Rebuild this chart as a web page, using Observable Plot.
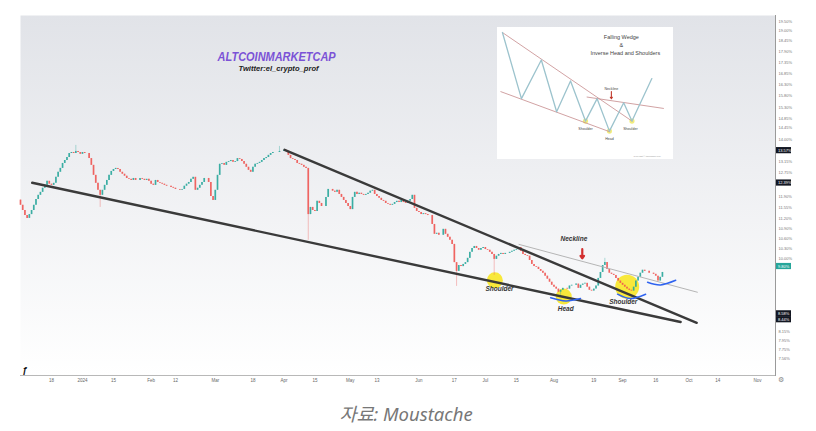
<!DOCTYPE html>
<html><head><meta charset="utf-8">
<script src="https://cdn.jsdelivr.net/npm/d3@7"></script>
<script src="https://cdn.jsdelivr.net/npm/@observablehq/plot@0.6"></script>
<style>
body{margin:0;background:#fff;font-family:"Liberation Sans",Arial,sans-serif;}
#wrap{position:relative;width:816px;height:395px;}
#inset{position:absolute;left:497px;top:27px;width:176px;height:132px;}
#caption{text-align:center;font-family:"Noto Sans","Noto Sans CJK KR",sans-serif;font-style:italic;font-size:18.5px;color:#777;line-height:24px;margin-top:7px;padding-right:4px;}
</style></head><body>
<div id="wrap"><div id="chart"></div><div id="inset"></div></div>
<div id="caption">자료: Moustache</div>
<script>
// ---------- data (daily closes, % , from 2023-12-04) ----------
const startDate = "2023-12-04";
const firstOpen = 11.80;
const closes = [
  11.63, 11.46, 11.30, 11.21, 11.33, 11.46, 11.63,
  11.82, 11.96, 12.06, 12.20, 12.30, 12.44, 12.34,
  12.30, 12.37, 12.58, 12.76, 12.90, 13.08, 13.19,
  13.30, 13.45, 13.49, 13.45, 13.53, 13.49, 13.42,
  13.49, 13.45, 13.45, 13.26, 13.01, 12.65, 12.37,
  12.13, 11.96, 12.13, 12.30, 12.47, 12.65, 12.79,
  12.86, 12.90, 12.86, 12.76, 12.69, 12.62, 12.54,
  12.51, 12.47, 12.54, 12.47, 12.47, 12.54, 12.51,
  12.47, 12.51, 12.44, 12.34, 12.30, 12.47, 12.40,
  12.37, 12.34, 12.30, 12.27, 12.27, 12.23, 12.20,
  12.16, 12.16, 12.13, 12.16, 12.27, 12.34, 12.40,
  12.51, 12.58, 12.13, 12.20, 12.30, 12.40, 12.54,
  12.54, 12.40, 11.92, 11.79, 12.13, 12.65, 13.05,
  13.08, 13.01, 13.12, 13.15, 13.19, 13.12, 13.15,
  13.26, 13.23, 13.15, 13.05, 12.94, 12.83, 12.76,
  12.94, 13.05, 13.08, 13.12, 13.19, 13.26, 13.30,
  13.38, 13.45, 13.49, 13.49, 13.49, 13.53, 13.53,
  13.57, 13.53, 13.38, 13.26, 13.23, 13.19, 13.08,
  13.05, 13.01, 12.94, 12.90, 11.33, 11.56, 11.46,
  11.43, 11.76, 11.69, 11.59, 11.59, 11.89, 12.16,
  12.16, 12.10, 12.06, 12.13, 11.99, 11.89, 11.79,
  11.69, 11.59, 11.49, 11.89, 12.06, 11.99, 12.03,
  11.99, 11.96, 11.99, 12.03, 12.10, 12.13, 11.99,
  11.92, 11.86, 11.79, 11.76, 11.69, 11.66, 11.63,
  11.66, 11.72, 11.76, 11.72, 11.79, 11.72, 11.69,
  11.76, 11.82, 11.96, 11.53, 11.43, 11.40, 11.33,
  11.36, 11.33, 11.30, 11.30, 11.02, 10.72, 10.75,
  10.69, 10.69, 10.87, 10.72, 10.63, 10.54, 10.42,
  9.90, 9.66, 9.82, 9.79, 9.85, 9.90, 10.02,
  10.19, 10.30, 10.36, 10.30, 10.25, 10.30, 10.33,
  10.27, 10.25, 10.19, 10.13, 9.99, 10.08, 10.13,
  10.16, 10.13, 10.16, 10.16, 10.19, 10.22, 10.25,
  10.27, 10.33, 10.22, 10.13, 10.10, 10.08, 9.96,
  9.85, 9.79, 9.77, 9.71, 9.66, 9.61, 9.53,
  9.45, 9.37, 9.29, 9.24, 9.19, 9.11, 9.16,
  9.21, 9.21, 9.19, 9.27, 9.29, 9.29, 9.32,
  9.21, 9.29, 9.32, 9.34, 9.24, 9.16, 9.14,
  9.19, 9.27, 9.47, 9.63, 9.82, 9.90, 9.71,
  9.61, 9.58, 9.55, 9.47, 9.40, 9.34, 9.29,
  9.24, 9.19, 9.16, 9.14, 9.24, 9.40, 9.50,
  9.61, 9.69, 9.66, 9.66, 9.61, 9.61, 9.58,
  9.53, 9.40, 9.50, 9.63
];
// notable wicks
const wickDates = ["2023-12-29","2024-01-09","2024-03-30","2024-04-12","2024-06-18","2024-07-05","2024-08-04","2024-08-24"];
const wickLows  = [null, 11.56, null, 10.54, 9.26, 9.55, 9.03, null];
const wickHighs = [13.76, null, 13.72, null, null, null, null, 10.02];

// trend lines
const wedgeUpper = [["2024-04-01T07:00", 13.59], ["2024-10-04T12:00", 8.36]];
const wedgeLower = [["2023-12-09T07:00", 12.39], ["2024-09-27T05:00", 8.38]];
const neckline   = [["2024-07-16T05:00", 10.42], ["2024-10-04T19:00", 9.11]];

// annotations
const smallCircles = [["2024-07-05T07:00", 9.42], ["2024-08-05T10:00", 9.00]];
const bigCircles   = [["2024-09-03T02:00", 9.25]];
const noteDates = ["2024-08-10", "2024-07-07T10:00", "2024-08-06T07:00", "2024-09-01T07:00"];
const noteValues = [10.57, 9.19, 8.69, 8.86];
const noteTexts = ["Neckline", "Shoulder", "Head", "Shoulder"];
const arrowPt = {date: "2024-08-13T19:00", from: 10.28, to: 10.02};
const arcs = [
  [["2024-07-30T12:00", 8.97], ["2024-08-06T07:00", 8.89], ["2024-08-13T00:00", 8.95]],
  [["2024-08-29T17:00", 9.06], ["2024-09-04T14:00", 8.95], ["2024-09-11T10:00", 9.06]],
  [["2024-09-12T07:00", 9.37], ["2024-09-18T05:00", 9.30], ["2024-09-25T00:00", 9.42]]
];
const titleText = [{date: "2024-03-28T17:00", v: 17.67, t: "ALTCOINMARKETCAP"}];
const subText = [{date: "2024-03-29T14:00", v: 17.07, t: "Twitter:el_crypto_prof"}];

// axes
const yTicks = [19.50, 19.00, 18.45, 17.90, 17.35, 16.85, 16.30, 15.80, 15.30, 14.85, 14.45, 14.00,
  13.15, 12.75, 11.90, 11.55, 11.20, 10.90, 10.60, 10.30, 10.00, 9.40, 9.15, 8.90, 8.65, 8.15, 7.95, 7.75, 7.56];
const priceTags = [13.57, 12.39, 9.80, 8.58, 8.44];
const xTickDates = ["2023-12-18","2024-01-01","2024-01-15","2024-02-01","2024-02-12","2024-03-01","2024-03-18","2024-04-01","2024-04-15","2024-05-01","2024-05-13","2024-06-01","2024-06-17","2024-07-01","2024-07-15","2024-08-01","2024-08-19","2024-09-01","2024-09-16","2024-10-01","2024-10-14","2024-11-01"];
const xTickLabels = ["18","2024","15","Feb","12","Mar","18","Apr","15","May","13","Jun","17","Jul","15","Aug","19","Sep","16","Oct","14","Nov"];

// inset schematic (0..100 units)
const insetZig = [[2.8,96.2],[13.6,46.1],[24.9,75.4],[33.6,36.2],[41.5,59.5],[50.0,29.1],[56.6,46.1],[63.6,21.5],[71.7,43.0],[76.4,29.1],[87.7,61.3]];
const insetUpper = [[2.8,96.2],[76.4,29.1]];
const insetLower = [[1.9,51.4],[63.8,21.0]];
const insetNeck = [[50.9,47.3],[94.3,38.7]];
const insetDots = [[50.0,29.1],[63.6,21.5],[76.4,29.1]];
const insetLabels = [[50.0,23.0,"Shoulder"],[63.6,15.6,"Head"],[75.5,23.5,"Shoulder"],[64.7,53.9,"Neckline"]];
const insetTitle = [[70.4,92.4,"Falling Wedge"],[70.4,86.6,"&"],[72.6,80.5,"Inverse Head and Shoulders"]];

// ---------- build ----------
const P = d3.isoParse;
const fmt = d3.utcFormat("%Y-%m-%d");
const t0 = P(startDate);
const candles = closes.map((close, i) => {
  const date = d3.utcDay.offset(t0, i);
  const open = i === 0 ? firstOpen : closes[i - 1];
  const k = wickDates.indexOf(fmt(date));
  const lo = Math.min(open, close), hi = Math.max(open, close);
  return {date, open, close,
    low: k >= 0 && wickLows[k] != null ? wickLows[k] : lo,
    high: k >= 0 && wickHighs[k] != null ? wickHighs[k] : hi};
});
const up = candles.filter(d => d.close >= d.open);
const down = candles.filter(d => d.close < d.open);
const labelMap = new Map(xTickDates.map((d, i) => [+P(d), xTickLabels[i]]));
const pt = d => ({date: P(d[0]), v: d[1]});
const notes = noteTexts.map((t, i) => ({date: P(noteDates[i]), v: noteValues[i], t}));
const arcData = arcs.flatMap((a, k) => a.map(p => ({...pt(p), k})));
const tagText = d => d.toFixed(2) + "%";

const GREEN = "#26a69a", RED = "#ef5350";
const chart = Plot.plot({
  width: 816, height: 395,
  marginLeft: 20, marginRight: 41, marginTop: 15, marginBottom: 20,
  style: {fontFamily: "Liberation Sans, Arial, sans-serif", background: "transparent", overflow: "visible"},
  x: {type: "utc", domain: [P("2023-12-04"), P("2024-11-09T02:00")]},
  y: {type: "log", domain: [7.21, 19.82]},
  marks: [
    () => {
      const defs = d3.create("svg:defs");
      const g = defs.append("linearGradient").attr("id", "bg").attr("x1", 0).attr("y1", 0).attr("x2", 0).attr("y2", 1);
      g.append("stop").attr("offset", "0%").attr("stop-color", "#e1e3e8");
      g.append("stop").attr("offset", "100%").attr("stop-color", "#ffffff");
      return defs.node();
    },
    Plot.frame({fill: "url(#bg)", stroke: "none"}),
    Plot.dot(smallCircles.map(pt), {x: "date", y: "v", r: 8, fill: "#f7e62a", fillOpacity: 0.92}),
    Plot.dot(bigCircles.map(pt), {x: "date", y: "v", r: 12, fill: "#f7e62a", fillOpacity: 0.92}),
    Plot.ruleX(up, {x: "date", y1: "low", y2: "high", stroke: GREEN, strokeWidth: 0.6, strokeOpacity: 0.6}),
    Plot.ruleX(down, {x: "date", y1: "low", y2: "high", stroke: RED, strokeWidth: 0.6, strokeOpacity: 0.6}),
    Plot.ruleX(up, {x: "date", y1: "open", y2: "close", stroke: GREEN, strokeWidth: 1.7, strokeOpacity: 0.85}),
    Plot.ruleX(down, {x: "date", y1: "open", y2: "close", stroke: RED, strokeWidth: 1.7, strokeOpacity: 0.85}),
    Plot.line(neckline.map(pt), {x: "date", y: "v", stroke: "#b5b5b5", strokeWidth: 1}),
    Plot.line(wedgeUpper.map(pt), {x: "date", y: "v", stroke: "#3a3a3a", strokeWidth: 2.4}),
    Plot.line(wedgeLower.map(pt), {x: "date", y: "v", stroke: "#3a3a3a", strokeWidth: 2.4}),
    Plot.line(arcData, {x: "date", y: "v", z: "k", curve: "natural", stroke: "#2f63f0", strokeWidth: 1.5}),
    Plot.arrow([arrowPt], {x1: d => P(d.date), x2: d => P(d.date), y1: "from", y2: "to", stroke: "#d32f2f", strokeWidth: 2.2, headLength: 5, headAngle: 70}),
    Plot.text(notes, {x: "date", y: "v", text: "t", fontSize: 6.5, fontStyle: "italic", fontWeight: "bold", fill: "#333"}),
    Plot.text(titleText, {x: d => P(d.date), y: "v", text: "t", fontSize: 13, fontStyle: "italic", fontWeight: "bold", fill: "#7b52d6", fontFamily: "Liberation Sans Narrow, Liberation Sans, sans-serif"}),
    Plot.text(subText, {x: d => P(d.date), y: "v", text: "t", fontSize: 7, fontStyle: "italic", fontWeight: "bold", fill: "#222"}),
    Plot.frame({anchor: "bottom", stroke: "#b8b8b8"}),
    Plot.frame({anchor: "right", stroke: "#9a9a9a"}),
    Plot.axisX({ticks: xTickDates.map(P), tickFormat: d => labelMap.get(+d), tickSize: 0, tickPadding: 3, fontSize: 4.5, fill: "#666", label: null}),
    Plot.axisY({anchor: "right", ticks: yTicks, tickFormat: d => d.toFixed(2) + "%", tickSize: 0, tickPadding: 3, fontSize: 4, fill: "#777", label: null}),
    Plot.text(priceTags, {y: d => d, text: tagText, frameAnchor: "right", dx: 2.5, textAnchor: "start", fontSize: 4, fill: "#fff"}),
    Plot.text(["ƒ"], {text: d => d, frameAnchor: "bottom-left", dx: 2, dy: -3, fontSize: 9, fontWeight: "bold", fill: "#111"}),
    Plot.text(["⚙"], {text: d => d, frameAnchor: "bottom-right", dx: 8, dy: 6, fontSize: 7, fill: "#888"})
  ]
});
document.getElementById("chart").appendChild(chart);

// style touch-ups: narrow title text, tag boxes
const allText = Array.from(chart.querySelectorAll("text"));
allText.forEach(t => {
  const s = t.textContent;
  if (s === titleText[0].t) { t.setAttribute("textLength", 118); t.setAttribute("lengthAdjust", "spacingAndGlyphs"); }
  if (s === subText[0].t) { t.setAttribute("textLength", 80); t.setAttribute("lengthAdjust", "spacingAndGlyphs"); }
});
const tagFill = ["#131722", "#131722", "#26a69a", "#131722", "#131722"];
priceTags.forEach((v, i) => {
  const t = allText.find(e => e.textContent === tagText(v) && e.getAttribute("fill") !== "#777");
  if (!t) return;
  const bb = t.getBBox();
  const r = document.createElementNS("http://www.w3.org/2000/svg", "rect");
  r.setAttribute("x", bb.x - 2);
  r.setAttribute("y", bb.y - 0.6);
  r.setAttribute("width", 15);
  r.setAttribute("height", bb.height + 1.2);
  r.setAttribute("fill", tagFill[i]);
  if (t.getAttribute("transform")) r.setAttribute("transform", t.getAttribute("transform"));
  t.parentNode.insertBefore(r, t);
});

// inset schematic
const ip = d => ({x: d[0], y: d[1]});
const inset = Plot.plot({
  width: 176, height: 132, margin: 0,
  style: {background: "#fff", fontFamily: "Liberation Sans, Arial, sans-serif", overflow: "visible"},
  x: {domain: [0, 100], axis: null},
  y: {domain: [0, 100], axis: null},
  marks: [
    Plot.dot(insetDots.map(ip), {x: "x", y: "y", r: 2.6, fill: "#f0ec78", fillOpacity: 0.95}),
    Plot.line(insetUpper.map(ip), {x: "x", y: "y", stroke: "#c58a8c", strokeWidth: 0.8}),
    Plot.line(insetLower.map(ip), {x: "x", y: "y", stroke: "#c58a8c", strokeWidth: 0.8}),
    Plot.line(insetNeck.map(ip), {x: "x", y: "y", stroke: "#c58a8c", strokeWidth: 0.8}),
    Plot.line(insetZig.map(ip), {x: "x", y: "y", stroke: "#9cc3cd", strokeWidth: 1.3}),
    Plot.arrow([[64.7, 51.5, 64.7, 46.0]], {x1: d => d[0], y1: d => d[1], x2: d => d[2], y2: d => d[3], stroke: "#c0392b", strokeWidth: 1.1, headLength: 2.5, headAngle: 70}),
    Plot.text(insetTitle, {x: d => d[0], y: d => d[1], text: d => d[2], fontSize: 5.5, fill: "#444"}),
    Plot.text(insetLabels, {x: d => d[0], y: d => d[1], text: d => d[2], fontSize: 3.6, fill: "#444"}),
    Plot.text(["Copyright © tradingsim.com"], {x: 85, y: 2.2, text: d => d, fontSize: 2.2, fill: "#999"})
  ]
});
document.getElementById("inset").appendChild(inset);
</script>
</body></html>
